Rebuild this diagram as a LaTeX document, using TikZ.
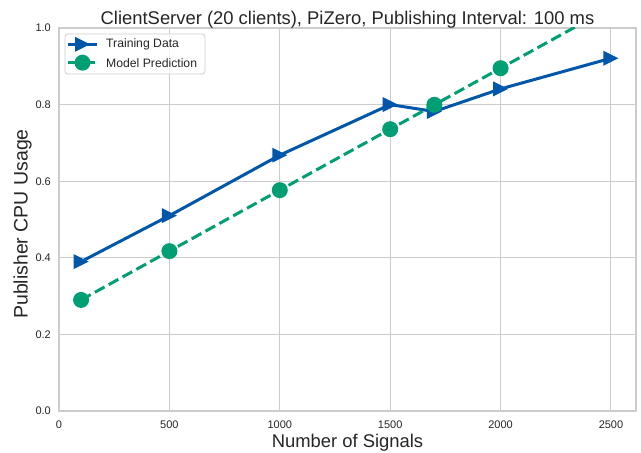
\documentclass[tikz,border=0pt]{standalone}
\usepackage{fontspec}
\setmainfont{Liberation Sans}
\definecolor{tdblue}{RGB}{0,87,170}
\definecolor{mpgreen}{RGB}{0,158,115}
\definecolor{gridgray}{RGB}{204,204,204}
\definecolor{txt}{RGB}{38,38,38}
\begin{document}
\begin{tikzpicture}[x=1pt,y=1pt,
  gridline/.style={gridgray, line width=1pt},
  spine/.style={gridgray, line width=1.2pt},
  ticklab/.style={font=\fontsize{11}{13}\selectfont, text=txt, inner sep=0pt},
  axlab/.style={font=\fontsize{18.4}{21}\selectfont, text=txt, inner sep=0pt},
  ylabsty/.style={font=\fontsize{19.5}{22}\selectfont, text=txt, inner sep=0pt},
  leglab/.style={font=\fontsize{12.2}{14}\selectfont, text=txt, inner sep=0pt, anchor=west},
  tdline/.style={tdblue, line width=3pt, line join=round},
  mpline/.style={mpgreen, line width=3pt, dash pattern=on 11pt off 4.8pt},
  tri/.pic={\fill[tdblue] (7.5pt,0pt) -- (-7.5pt,7.5pt) -- (-7.5pt,-7.5pt) -- cycle;},
  dot/.pic={\fill[mpgreen] (0pt,0pt) circle (8pt);}]
\useasboundingbox (0,0) rectangle (641,453);
\fill[white] (0,0) rectangle (641,453);

\begin{scope}[shift={(59pt,42pt)}, x=0.2208pt, y=383pt]
  % grid
  \foreach \v in {500,1000,1500,2000,2500} \draw[gridline] (\v,0) -- (\v,1);
  \foreach \v in {0.2,0.4,0.6,0.8} \draw[gridline] (0,\v) -- (2613,\v);
  \draw[spine] (0,0) rectangle (2613,1);
  % tick labels
  \foreach \v in {0,500,1000,1500,2000,2500}
    \node[ticklab, anchor=base] (xt\v) at ([yshift=-18pt]\v,0) {\v};
  \foreach \v/\l in {0/0.0,0.2/0.2,0.4/0.4,0.6/0.6,0.8/0.8,1/1.0}
    \node[ticklab, anchor=base east] (yt\l) at ([xshift=-8pt,yshift=-4pt]0,\v) {\l};
  % data
  \coordinate (t1) at (100,0.39);
  \coordinate (t2) at (500,0.51);
  \coordinate (t3) at (1000,0.668);
  \coordinate (t4) at (1500,0.80);
  \coordinate (t5) at (1700,0.782);
  \coordinate (t6) at (2000,0.841);
  \coordinate (t7) at (2500,0.921);
  \coordinate (m1) at (100,0.2900);
  \coordinate (m2) at (500,0.4174);
  \coordinate (m3) at (1000,0.5766);
  \coordinate (m4) at (1500,0.7358);
  \coordinate (m5) at (1700,0.7995);
  \coordinate (m6) at (2000,0.8950);
  \coordinate (m7) at (2500,1.0542);
  \draw[tdline] (t1) -- (t2) -- (t3) -- (t4) -- (t5) -- (t6) -- (t7);
  \foreach \p in {t1,t2,t3,t4,t5,t6,t7} \pic at (\p) {tri};
  \begin{scope}
    \clip (0,0) rectangle (2613,1);
    \draw[mpline] (m1) -- (m2) -- (m3) -- (m4) -- (m5) -- (m6) -- (m7);
  \end{scope}
  \foreach \p in {m1,m2,m3,m4,m5,m6} \pic at (\p) {dot};
\end{scope}

% legend
\draw[gridgray, line width=0.8pt, fill=white, fill opacity=0.8, rounded corners=3pt] (65,379) rectangle (205,419);
\coordinate (la) at (68,408.7);
\coordinate (lb) at (97,408.7);
\coordinate (lc) at (68,390.3);
\coordinate (ld) at (97,390.3);
\draw[tdline] (la) -- (lb);
\pic at (82.5,408.7) {tri};
\draw[mpline] (lc) -- (ld);
\pic at (82.5,390.3) {dot};
\node[leglab] (lt1) at (106,408.7) {Training Data};
\node[leglab] (lt2) at (106,390.3) {Model Prediction};

% labels
\node[axlab, anchor=base] (title) at (347.5,428) {ClientServer (20 clients), PiZero, Publishing Interval: 100 ms};
\node[axlab, anchor=base] (xlab) at (347.5,5) {Number of Signals};
\node[ylabsty, anchor=base, rotate=90] (ylab) at (27.5,229) {Publisher CPU Usage};
\end{tikzpicture}
\end{document}
